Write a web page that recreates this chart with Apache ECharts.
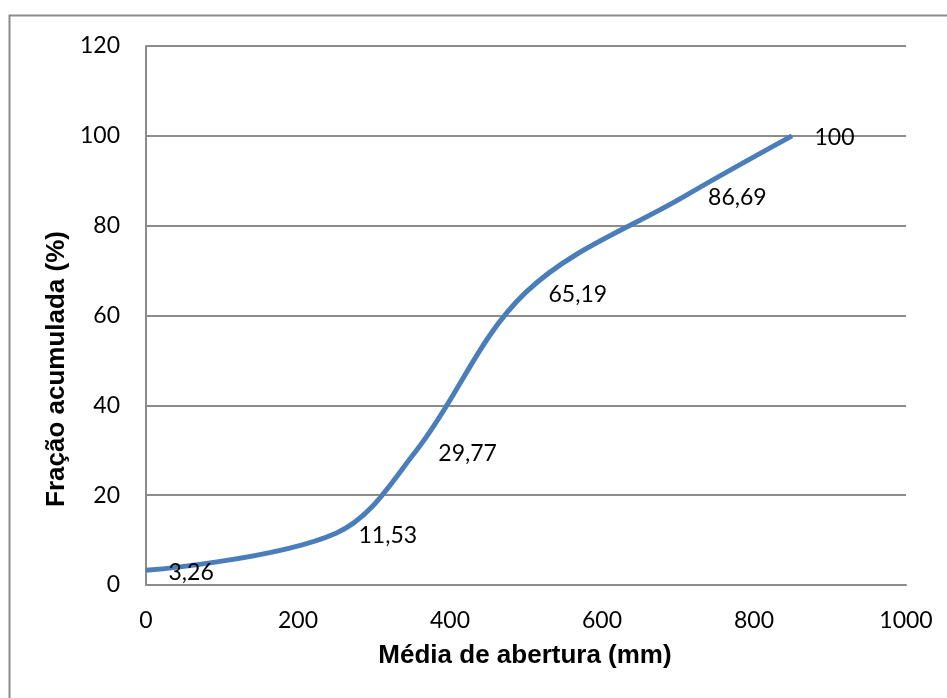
<!DOCTYPE html>
<html>
<head>
<meta charset="utf-8">
<script src="https://cdn.jsdelivr.net/npm/echarts@6/dist/echarts.min.js"></script>
<style>html,body{margin:0;padding:0;background:#fff;}#c{width:947px;height:698px;}</style>
</head>
<body>
<div id="c"></div>
<script>
const xValues = [0, 250, 355, 500, 710, 850];
const yValues = [3.26, 11.53, 29.77, 65.19, 86.69, 100];
const pointLabels = ['3,26', '11,53', '29,77', '65,19', '86,69', '100'];
const xTitle = 'Média de abertura (mm)';
const yTitle = 'Fração acumulada (%)';

const chart = echarts.init(document.getElementById('c'), null, {renderer: 'canvas'});
const seriesData = xValues.map((x, i) => [x, yValues[i]]);
const tickFont = 'Lato';
chart.setOption({
  animation: false,
  backgroundColor: '#ffffff',
  grid: {left: 146, top: 46, right: 41, bottom: 113, containLabel: false},
  xAxis: {
    type: 'value', min: 0, max: 1000, interval: 200,
    axisLine: {show: true, lineStyle: {color: '#8c8c8c', width: 2}},
    axisTick: {show: false},
    splitLine: {show: false},
    axisLabel: {fontFamily: tickFont, fontSize: 23, color: '#000', margin: 24,
      formatter: v => String(v)}
  },
  yAxis: {
    type: 'value', min: 0, max: 120, interval: 20,
    axisLine: {show: true, lineStyle: {color: '#8c8c8c', width: 2}},
    axisTick: {show: false},
    splitLine: {show: true, lineStyle: {color: '#8c8c8c', width: 2}},
    axisLabel: {fontFamily: tickFont, fontSize: 23, color: '#000', margin: 26,
      formatter: v => String(v)}
  },
  series: [{
    type: 'line',
    data: seriesData,
    smooth: 0.35,
    symbol: 'circle',
    symbolSize: 1,
    showSymbol: true,
    itemStyle: {color: '#4a7ebb'},
    lineStyle: {color: '#4a7ebb', width: 5},
    label: {
      show: true, position: 'right', distance: 22, offset: [0, 2],
      fontFamily: tickFont, fontSize: 23, color: '#000',
      formatter: p => pointLabels[p.dataIndex]
    }
  }],
  graphic: [
    {type: 'rect', shape: {x: 9.5, y: 15.5, width: 1200, height: 1200},
     style: {fill: null, stroke: '#8c8c8c', lineWidth: 2}, silent: true, z: -1},
    {type: 'text', x: 525, y: 656,
     style: {text: xTitle, font: 'bold 26px "Liberation Sans", Arial', fill: '#000', align: 'center', verticalAlign: 'middle'}},
    {type: 'text', x: 57, y: 369, rotation: Math.PI / 2,
     style: {text: yTitle, font: 'bold 26px "Liberation Sans", Arial', fill: '#000', align: 'center', verticalAlign: 'middle'}}
  ]
});
</script>
</body>
</html>
